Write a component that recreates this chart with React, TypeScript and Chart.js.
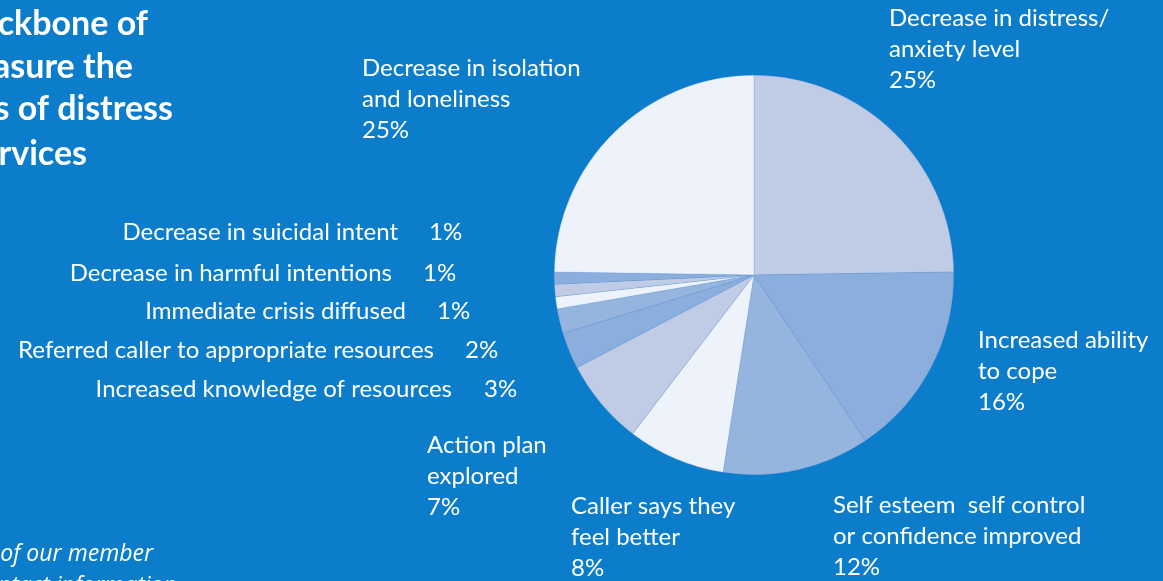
import React, { useEffect, useRef } from "react";
import { Chart, registerables } from "chart.js";

Chart.register(...registerables);

// Call outcomes, clockwise from twelve o'clock
const outcomeNames: string[][] = [
  ["Decrease in distress/", "anxiety level"],
  ["Increased ability", "to cope"],
  ["Self esteem  self control", "or confidence improved"],
  ["Caller says they", "feel better"],
  ["Action plan", "explored"],
  ["Increased knowledge of resources"],
  ["Referred caller to appropriate resources"],
  ["Immediate crisis diffused"],
  ["Decrease in harmful intentions"],
  ["Decrease in suicidal intent"],
  ["Decrease in isolation", "and loneliness"],
];

const outcomeShares: number[] = [25, 16, 12, 8, 7, 3, 2, 1, 1, 1, 25];

const headingLines: string[] = ["ckbone of", "asure the", "s of distress", "rvices"];
const footnoteLines: string[] = ["of our member", "ntact information"];

// Slice fills, one per outcome
const LAVENDER = "#c0cce6";
const SKY = "#8caedd";
const MIST = "#95b4de";
const PALE = "#eef3fb";
const sliceFills = [LAVENDER, SKY, MIST, PALE, LAVENDER, SKY, MIST, PALE, LAVENDER, SKY, PALE];
const BACKGROUND = "#0b7dcb";
const LABEL_FONT = '24px "Lato", sans-serif';

// Where each label sits: "block" = name lines then percentage below;
// "row" = name right-aligned at x, percentage starting at px
type Placement =
  | { kind: "block"; x: number; y: number }
  | { kind: "row"; x: number; px: number; y: number };

const labelPlacement: Placement[] = [
  { kind: "block", x: 889, y: 26 },
  { kind: "block", x: 978, y: 348 },
  { kind: "block", x: 833, y: 513 },
  { kind: "block", x: 571, y: 514 },
  { kind: "block", x: 427, y: 453 },
  { kind: "row", x: 452, px: 484, y: 397 },
  { kind: "row", x: 434, px: 465, y: 358 },
  { kind: "row", x: 406, px: 437, y: 319 },
  { kind: "row", x: 392, px: 423, y: 281 },
  { kind: "row", x: 398, px: 429, y: 240 },
  { kind: "block", x: 362, y: 76 },
];
const LINE_STEP = 31;

const textPlugin = {
  id: "outcomeText",
  afterDraw(chart: Chart) {
    const ctx = chart.ctx;
    ctx.save();
    ctx.fillStyle = "#ffffff";
    ctx.textBaseline = "alphabetic";

    // heading block, clipped at the left edge
    ctx.font = 'bold 34px "Lato", sans-serif';
    ctx.textAlign = "right";
    const headingRight = [148, 133, 173, 87];
    const headingBase = [35, 78, 120, 165];
    headingLines.forEach((t, i) => ctx.fillText(t, headingRight[i], headingBase[i]));

    // footnote, clipped at the left and bottom edges
    ctx.font = 'italic 23px "Open Sans", sans-serif';
    ctx.fillText(footnoteLines[0], 153, 561);
    ctx.textAlign = "left";
    ctx.fillText(footnoteLines[1], -2, 593);

    ctx.font = LABEL_FONT;
    outcomeNames.forEach((lines, i) => {
      const p = labelPlacement[i];
      const pct = `${outcomeShares[i]}%`;
      if (p.kind === "block") {
        ctx.textAlign = "left";
        lines.forEach((ln, k) => ctx.fillText(ln, p.x, p.y + k * LINE_STEP));
        ctx.fillText(pct, p.x, p.y + lines.length * LINE_STEP);
      } else {
        ctx.textAlign = "right";
        ctx.fillText(lines.join(" "), p.x, p.y);
        ctx.textAlign = "left";
        ctx.fillText(pct, p.px, p.y);
      }
    });
    ctx.restore();
  },
};

export default function App() {
  const canvasRef = useRef<HTMLCanvasElement | null>(null);

  useEffect(() => {
    const canvas = canvasRef.current;
    if (!canvas) return;
    const chart = new Chart(canvas, {
      type: "pie",
      data: {
        labels: outcomeNames.map((l) => l.join(" ")),
        datasets: [
          {
            data: outcomeShares,
            backgroundColor: sliceFills,
            borderColor: "rgba(110,150,210,0.55)",
            borderWidth: 0.5,
            hoverOffset: 0,
            offset: 0,
          },
        ],
      },
      options: {
        responsive: false,
        animation: false,
        devicePixelRatio: 1,
        layout: { padding: { left: 554, right: 209, top: 75, bottom: 106 } },
        plugins: {
          legend: { display: false },
          tooltip: { enabled: false },
          title: { display: false },
        },
        events: [],
      },
      plugins: [textPlugin],
    });
    return () => chart.destroy();
  }, []);

  return (
    <div
      style={{
        position: "fixed",
        left: 0,
        top: 0,
        width: 1163,
        height: 581,
        background: BACKGROUND,
        overflow: "hidden",
      }}
    >
      <canvas ref={canvasRef} width={1163} height={581} style={{ display: "block" }} />
    </div>
  );
}
